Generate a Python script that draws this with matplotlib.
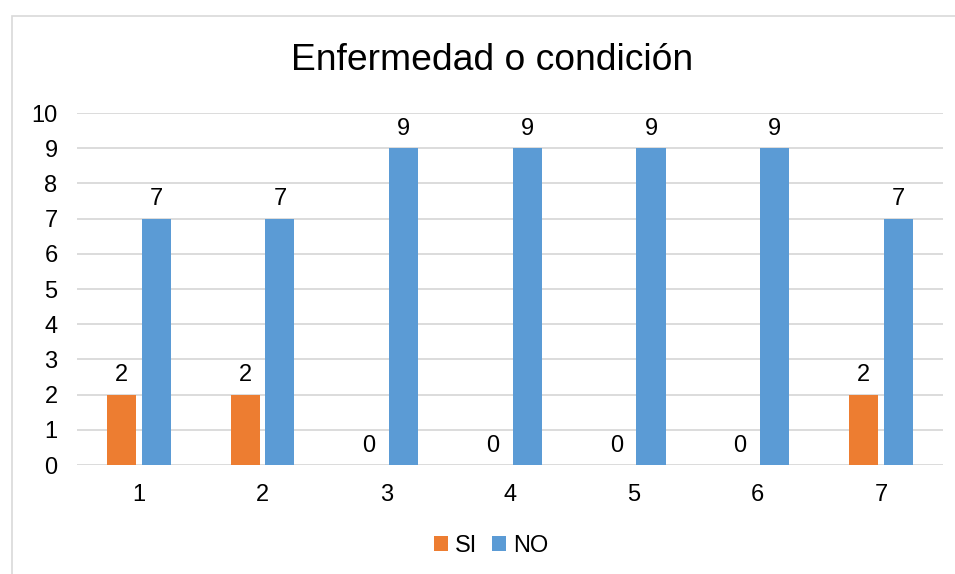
import matplotlib
matplotlib.use("Agg")
import matplotlib.pyplot as plt
from matplotlib.patches import Rectangle, Patch
import numpy as np

plt.rcParams['font.family'] = ['Liberation Sans', 'DejaVu Sans']

# ----------------------------
# Data
# ----------------------------
categories = ["1", "2", "3", "4", "5", "6", "7"]
si_values = [2, 2, 0, 0, 0, 0, 2]
no_values = [7, 7, 9, 9, 9, 9, 7]
series_names = ["SI", "NO"]
title = "Enfermedad o condición"

ORANGE = "#ED7D31"
BLUE = "#5B9BD5"
GRID = "#D9D9D9"

W, H = 955, 574
fig = plt.figure(figsize=(W / 100, H / 100), dpi=100)

# chart frame (Excel style, runs off the right/bottom edge)
fig.patches.append(Rectangle((12 / W, -0.02), 1.1, 1 - 16 / H + 0.02,
                             transform=fig.transFigure, fill=False,
                             edgecolor="#D9D9D9", linewidth=1.2))

left, right = 77 / W, 943 / W
bottom, top = 1 - 465 / H, 1 - 113 / H
ax = fig.add_axes([left, bottom, right - left, top - bottom])

x = np.arange(len(categories))
width = 0.235
off = 0.14

b1 = ax.bar(x - off, si_values, width, color=ORANGE, zorder=3)
b2 = ax.bar(x + off, no_values, width, color=BLUE, zorder=3)

for bars, vals in ((b1, si_values), (b2, no_values)):
    for rect, v in zip(bars, vals):
        ax.annotate(str(v), (rect.get_x() + rect.get_width() / 2, v),
                    xytext=(0, 6), textcoords="offset points",
                    ha="center", va="bottom", fontsize=17)

ax.set_xlim(-0.5, len(categories) - 0.5)
ax.set_ylim(0, 10)
ax.set_yticks(range(0, 11))
ax.set_xticks(x)
ax.set_xticklabels(categories)
ax.tick_params(axis="both", length=0, labelsize=17)
ax.tick_params(axis="y", pad=14)
ax.tick_params(axis="x", pad=14)
ax.grid(axis="y", color=GRID, linewidth=1.3, zorder=0)
for s in ax.spines.values():
    s.set_visible(False)

fig.text((292 + 692) / 2 / W, 1 - 60 / H, title, ha="center", va="center",
         fontsize=26.8)

handles = [Patch(facecolor=ORANGE), Patch(facecolor=BLUE)]
fig.legend(handles, series_names, loc="center", bbox_to_anchor=(491 / W, 1 - 546 / H),
           ncol=2, frameon=False, fontsize=17, handlelength=0.6, handleheight=0.6,
           handletextpad=0.3, columnspacing=0.6)

fig.savefig("out.png", dpi=100)
